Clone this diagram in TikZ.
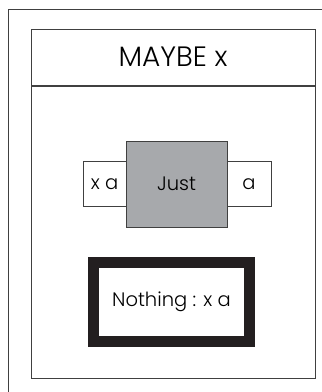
\documentclass[tikz,border=0pt]{standalone}
\usepackage{fontspec}
\setmainfont{Poppins}[UprightFont=* Light]
\usetikzlibrary{positioning}
\definecolor{jgray}{HTML}{A7A9AC}
\definecolor{ink}{HTML}{231F20}
\tikzset{fr/.style={draw=black!75,line width=1pt,minimum width=284pt,inner sep=0pt},
c/.style={draw=black!75,line width=1pt,fill=white,inner sep=0pt,minimum height=45pt,font=\fontsize{19.5}{21}\selectfont},
jb/.style={c,fill=jgray,minimum width=101pt,minimum height=86pt},
nb/.style={c,draw=ink,line width=11pt,minimum width=156pt,minimum height=79pt}}

\begin{document}
\begin{tikzpicture}[x=1pt,y=-1pt]
\useasboundingbox(0,0)rectangle(322,392);
\draw[black!75,line width=1pt](8,392)--(8,9)--(322,9);
\node[fr,minimum height=56pt,font=\fontsize{28}{30}\selectfont](T)at(173,57){MAYBE x};
\node[fr,minimum height=292pt,anchor=north](B)at(T.south){};
\node[c,minimum width=43pt](XA)at(104.5,184){x a};\node[c,minimum width=44pt](A)at(249,184){a};
\node[jb](J)at(176.5,184){Just};
\node[nb](N)at(171.5,302){Nothing : x a};
\end{tikzpicture}
\end{document}
